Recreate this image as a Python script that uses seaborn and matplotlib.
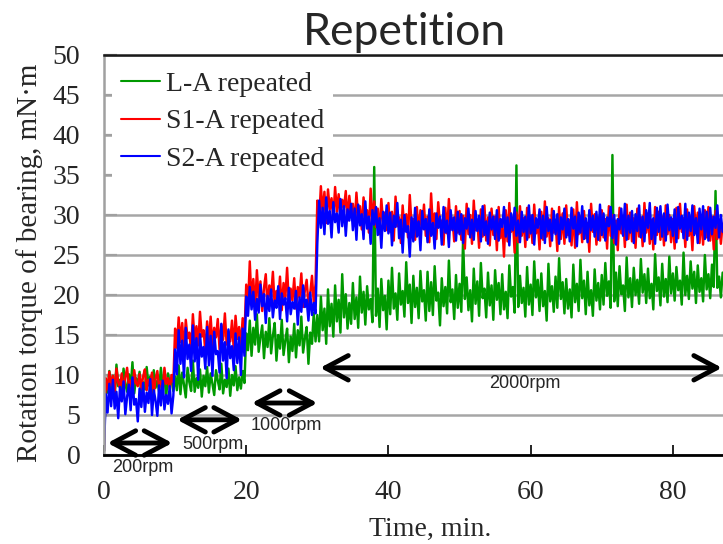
import numpy as np
import pandas as pd
import matplotlib
matplotlib.use("Agg")
import matplotlib.pyplot as plt
import seaborn as sns

# ---------------- data ----------------
PHASE_EDGES = [0, 10, 20, 30, 87]          # minutes: 200 / 500 / 1000 / 2000 rpm
SPEED_LABELS = ["200rpm", "500rpm", "1000rpm", "2000rpm"]
SERIES_NAMES = ["L-A repeated", "S1-A repeated", "S2-A repeated"]

# L-A repeated (green)
la_200 = [0.5, 9.2, 7.8, 10.5, 8.1, 9.9, 7.2, 11.3, 8.6, 9.4, 7.5, 10.8, 8.9, 7.9, 10.1, 8.3, 11.6, 7.7, 9.6, 8.8,
          10.4, 7.4, 9.1, 8.2, 11.0, 8.7, 9.8, 7.6, 10.6, 8.4, 9.3, 7.9, 10.9, 8.5, 9.7, 7.3, 10.2, 8.8, 9.5, 8.0]
la_500 = [9.8, 8.1, 11.2, 7.6, 10.3, 8.8, 7.2, 10.9, 9.1, 8.0, 11.8, 7.9, 9.6, 8.4, 10.7, 7.3, 9.9, 8.6, 11.0, 7.8,
          10.2, 8.9, 7.5, 10.6, 9.3, 8.2, 11.4, 7.7, 9.4, 8.5, 10.8, 7.4, 10.0, 8.7, 11.1, 8.1, 9.7, 8.3, 10.5, 9.0]
la_1000 = [15.2, 13.1, 16.8, 12.4, 15.9, 13.8, 17.6, 12.9, 14.7, 16.2, 12.1, 15.4, 13.5, 17.1, 12.7, 14.9, 16.5, 11.8, 15.0, 13.3,
           16.9, 12.5, 14.3, 15.8, 11.6, 14.8, 13.0, 16.4, 12.2, 15.6, 13.7, 17.3, 12.8, 14.6, 16.0, 11.4, 15.3, 13.9, 17.8, 14.2]
la_2000 = [17.5, 14.2, 19.8, 15.6, 18.3, 13.9, 20.7, 16.1, 18.9, 14.8, 21.2, 16.7, 19.4, 15.3, 22.6, 17.2, 20.1, 15.8, 19.0, 16.4,
           21.5, 17.0, 19.7, 15.9, 22.3, 17.8, 20.4, 16.3, 21.1, 18.2, 19.5, 16.6, 36.0, 17.4, 20.8, 16.0, 22.0, 18.1, 19.9, 15.7,
           21.8, 17.6, 23.4, 18.3, 20.2, 16.9, 22.7, 18.8, 20.5, 17.3, 24.1, 19.0, 21.3, 16.5, 22.4, 18.5, 20.9, 17.1, 23.0, 19.2,
           20.6, 16.8, 22.9, 18.0, 21.6, 17.5, 23.6, 19.3, 20.3, 16.2, 22.1, 18.6, 21.0, 17.7, 24.3, 19.1, 20.7, 17.0, 22.5, 18.4,
           21.4, 17.9, 27.0, 19.5, 22.2, 18.1, 20.6, 16.7, 23.3, 18.9, 21.7, 17.4, 24.0, 19.6, 20.8, 17.2, 22.8, 18.7, 21.2, 16.9,
           23.1, 19.4, 21.5, 17.6, 22.6, 18.2, 20.4, 17.1, 23.7, 19.8, 21.0, 17.8, 36.2, 18.5, 22.4, 19.0, 20.9, 17.3, 23.5, 18.8,
           21.3, 17.5, 24.2, 19.7, 21.9, 18.0, 22.7, 18.6, 20.5, 16.8, 23.9, 19.2, 21.1, 17.9, 22.3, 18.4, 24.6, 19.5, 21.6, 17.7,
           22.0, 18.3, 20.7, 17.2, 23.8, 19.1, 21.4, 18.0, 24.4, 19.6, 21.8, 17.6, 22.9, 18.7, 20.6, 17.4, 23.2, 19.3, 21.5, 18.2,
           22.5, 18.8, 24.0, 19.9, 21.7, 18.4, 37.5, 19.2, 22.8, 18.6, 23.6, 20.1, 21.2, 18.0, 24.7, 19.7, 22.1, 18.5, 23.4, 20.0,
           21.9, 18.9, 24.5, 20.3, 22.6, 19.0, 23.3, 19.6, 21.4, 18.2, 25.1, 20.5, 22.2, 18.7, 23.9, 19.8, 22.0, 19.1, 24.8, 20.2,
           22.7, 19.3, 23.5, 20.6, 21.8, 18.8, 25.3, 20.0, 22.4, 19.5, 24.2, 20.8, 22.9, 19.0, 23.7, 20.4, 22.1, 19.2, 25.0, 20.7,
           22.6, 19.6, 23.8, 21.0, 33.0, 20.9, 22.3, 19.7, 22.8]

# S1-A repeated (red)
s1_200 = [0.5, 9.6, 8.2, 10.4, 8.7, 9.9, 7.9, 10.8, 9.1, 8.4, 10.2, 8.0, 9.7, 10.9, 8.5, 9.3, 7.8, 10.6, 9.0, 8.6,
          10.1, 8.3, 9.8, 10.7, 8.1, 9.4, 8.8, 10.3, 7.7, 9.5, 10.5, 8.4, 9.2, 8.0, 10.9, 8.9, 9.6, 8.2, 10.0, 9.1]
s1_500 = [15.8, 13.4, 17.2, 14.1, 16.5, 12.8, 16.9, 14.6, 15.3, 13.0, 17.6, 14.3, 16.1, 13.7, 17.9, 14.8, 15.6, 12.9, 16.7, 14.0,
          17.3, 13.5, 15.9, 14.7, 17.0, 13.2, 16.3, 14.4, 17.7, 13.8, 15.5, 14.2, 16.8, 13.1, 17.4, 14.5, 16.0, 13.6, 17.1, 14.9]
s1_1000 = [21.3, 18.6, 24.2, 19.1, 22.0, 18.2, 23.1, 19.5, 21.7, 18.0, 20.9, 22.6, 18.4, 21.2, 19.8, 22.9, 18.7, 20.5, 19.2, 22.3,
           18.1, 21.5, 19.6, 23.4, 18.9, 20.8, 19.3, 22.1, 18.3, 21.0, 19.7, 22.7, 18.5, 20.6, 21.9, 18.8, 20.2, 22.4, 19.0, 21.4]
s1_2000 = [31.8, 29.4, 33.6, 30.2, 32.9, 29.0, 33.2, 30.7, 32.1, 29.6, 33.5, 30.4, 32.6, 29.8, 31.9, 30.9, 33.0, 29.3, 32.4, 30.1,
           31.4, 28.7, 32.8, 29.5, 31.1, 28.2, 32.2, 29.9, 30.6, 27.8, 33.3, 29.2, 31.7, 28.5, 30.8, 27.6, 32.0, 29.0, 30.3, 28.1,
           31.5, 27.9, 30.4, 26.8, 32.3, 28.6, 29.7, 26.5, 31.2, 28.0, 30.1, 27.2, 32.5, 28.8, 29.5, 26.9, 31.0, 27.5, 30.6, 28.3,
           31.3, 27.4, 29.8, 26.6, 32.7, 28.4, 30.2, 27.0, 31.6, 28.9, 29.3, 26.3, 30.9, 27.7, 32.0, 28.2, 29.6, 26.7, 31.1, 27.8,
           30.5, 26.9, 29.9, 25.8, 31.4, 27.6, 30.0, 26.4, 31.8, 28.1, 29.4, 25.9, 30.7, 27.3, 31.2, 26.8, 29.7, 26.2, 30.8, 27.5,
           29.8, 25.6, 31.0, 27.1, 29.2, 24.8, 30.6, 26.7, 31.5, 27.9, 29.5, 25.3, 30.3, 26.6, 31.1, 27.4, 29.6, 26.0, 30.9, 27.2,
           29.9, 26.5, 31.3, 27.7, 29.1, 25.7, 30.4, 26.9, 31.7, 27.3, 29.6, 26.1, 30.8, 27.8, 29.3, 25.5, 31.0, 27.0, 30.2, 26.4,
           31.2, 27.5, 29.4, 26.2, 30.7, 25.9, 31.6, 27.6, 29.8, 26.6, 30.5, 27.1, 29.0, 25.4, 31.4, 27.9, 30.1, 26.3, 29.7, 26.8,
           30.6, 27.2, 29.5, 25.8, 31.1, 27.4, 30.0, 26.5, 29.3, 25.6, 30.9, 27.7, 29.9, 26.0, 31.3, 27.0, 30.3, 26.7, 29.6, 25.9,
           30.8, 27.3, 29.7, 26.1, 31.5, 27.8, 30.2, 26.4, 29.4, 25.7, 31.0, 27.5, 30.4, 26.9, 29.8, 26.2, 31.2, 27.6, 30.0, 26.6,
           29.5, 25.8, 30.9, 27.1, 31.4, 27.9, 29.6, 26.0, 30.7, 27.4, 29.2, 25.6, 31.1, 27.7, 30.3, 26.5, 29.9, 26.3, 30.6, 27.2,
           31.0, 26.8, 29.8, 25.7, 30.5, 27.0, 29.4, 26.4, 28.9]

# S2-A repeated (blue)
s2_200 = [0.5, 7.6, 5.3, 8.9, 6.1, 9.4, 5.8, 7.9, 4.6, 8.5, 6.7, 9.2, 5.1, 7.3, 8.8, 5.6, 9.7, 6.3, 7.0, 4.2,
          8.3, 6.0, 9.0, 5.4, 7.8, 6.5, 9.5, 5.0, 8.1, 6.8, 4.9, 8.7, 6.2, 9.3, 5.7, 7.5, 6.4, 8.6, 5.2, 7.4]
s2_500 = [13.2, 10.1, 15.6, 11.4, 14.3, 9.7, 15.9, 12.0, 13.8, 10.5, 16.2, 11.7, 14.6, 9.4, 15.1, 12.3, 13.5, 10.8, 16.0, 11.2,
          14.9, 9.9, 15.4, 12.6, 13.0, 10.3, 16.4, 11.8, 14.1, 9.6, 15.7, 12.1, 13.6, 10.6, 15.2, 11.5, 14.7, 10.0, 15.8, 12.4]
s2_1000 = [19.8, 17.4, 21.0, 18.2, 20.4, 16.9, 19.5, 17.8, 21.3, 18.6, 20.1, 16.5, 19.9, 18.0, 20.7, 17.2, 19.3, 18.4, 21.1, 17.0,
           20.2, 18.8, 19.6, 16.7, 20.9, 17.6, 19.1, 18.3, 20.5, 16.3, 19.7, 17.9, 21.2, 18.5, 19.4, 16.8, 20.3, 17.5, 19.0, 17.7]
s2_2000 = [26.5, 31.8, 28.4, 30.9, 27.6, 32.2, 28.9, 30.5, 27.2, 31.6, 29.1, 30.2, 27.8, 32.0, 28.6, 31.1, 27.4, 30.7, 29.3, 31.4,
           28.1, 30.8, 26.9, 31.3, 28.7, 30.1, 27.0, 31.7, 28.3, 29.8, 26.4, 30.6, 28.8, 31.0, 27.5, 29.6, 25.9, 30.4, 28.0, 31.2,
           27.7, 30.3, 26.2, 29.9, 28.5, 31.5, 27.1, 29.4, 25.3, 30.0, 27.9, 28.6, 24.8, 29.7, 26.7, 30.9, 27.3, 29.2, 25.6, 30.5,
           28.2, 29.5, 26.6, 30.7, 27.4, 29.0, 25.8, 30.2, 28.4, 29.8, 26.3, 31.0, 27.8, 29.3, 26.0, 30.6, 28.1, 29.7, 26.8, 30.4,
           27.6, 30.1, 26.5, 29.6, 28.3, 30.8, 27.2, 29.4, 26.9, 30.5, 28.0, 29.9, 26.7, 31.1, 27.5, 29.2, 26.4, 30.3, 28.2, 29.8,
           27.0, 30.6, 26.8, 29.5, 28.5, 31.0, 27.3, 29.7, 26.2, 30.2, 28.1, 30.9, 27.4, 29.3, 26.6, 30.4, 27.9, 29.8, 26.9, 31.2,
           27.7, 30.0, 26.3, 29.6, 28.4, 30.7, 27.1, 29.9, 26.5, 31.0, 28.0, 29.4, 26.8, 30.5, 27.6, 30.1, 26.4, 29.7, 28.2, 30.8,
           27.2, 29.5, 26.7, 30.9, 28.3, 29.8, 26.1, 30.3, 27.8, 31.1, 27.0, 29.6, 26.6, 30.6, 28.1, 29.9, 27.3, 30.4, 26.9, 31.3,
           27.5, 30.2, 26.8, 29.7, 28.6, 31.0, 27.1, 30.0, 26.3, 29.5, 28.2, 30.8, 27.4, 31.4, 26.9, 29.9, 27.8, 30.5, 26.5, 30.1,
           28.0, 31.2, 27.2, 29.8, 26.7, 30.6, 28.4, 31.5, 27.0, 29.6, 26.4, 30.9, 27.9, 31.1, 27.3, 30.2, 26.8, 31.3, 28.1, 29.7,
           27.4, 30.7, 26.6, 31.0, 28.3, 29.9, 27.1, 31.4, 26.9, 30.3, 28.0, 31.2, 27.5, 29.6, 26.5, 30.8, 28.2, 31.1, 27.0, 30.4,
           26.8, 30.9, 27.6, 29.8, 28.4, 31.2, 27.2, 30.0, 27.9]

# speed-range arrows (start, end, height) and label placement (x, y)
ARROW_SPANS = [(0.5, 9.6, 1.5), (10.3, 19.4, 4.4), (20.8, 30.0, 6.5), (30.4, 86.9, 10.9)]
ARROW_LABEL_POS = [(5.5, -1.5), (15.3, 1.3), (25.6, 3.75), (59.2, 9.0)]

# ---------------- build long-form table ----------------
series_segments = {
    SERIES_NAMES[0]: [la_200, la_500, la_1000, la_2000],
    SERIES_NAMES[1]: [s1_200, s1_500, s1_1000, s1_2000],
    SERIES_NAMES[2]: [s2_200, s2_500, s2_1000, s2_2000],
}
rows = []
for name, segs in series_segments.items():
    for k, seg in enumerate(segs):
        last = (k == len(segs) - 1)
        t = np.linspace(PHASE_EDGES[k], PHASE_EDGES[k + 1], len(seg), endpoint=last)
        for ti, v in zip(t, seg):
            rows.append((name, ti, v))
df = pd.DataFrame(rows, columns=["series", "time", "torque"])

# ---------------- figure ----------------
sns.set_style("white")
SERIF = ["Liberation Serif", "DejaVu Serif"]

fig = plt.figure(figsize=(7.23, 5.44), dpi=100)
ax = fig.add_axes([104 / 723, 1 - 455 / 544, (723 - 104) / 723, 400 / 544])

palette = {SERIES_NAMES[0]: "#009900", SERIES_NAMES[1]: "#ff0000", SERIES_NAMES[2]: "#0000ff"}
sns.lineplot(data=df, x="time", y="torque", hue="series", hue_order=SERIES_NAMES,
             palette=palette, estimator=None, sort=False, lw=1.75, ax=ax, legend=True)

ax.set_xlim(0, 87.05)
ax.set_ylim(0, 50)
ax.set_yticks(np.arange(0, 51, 5))
ax.set_xticks([0, 20, 40, 60, 80])
ax.set_axisbelow(True)
ax.yaxis.grid(True, color="#a6a6a6", lw=1.8)
ax.xaxis.grid(False)

ax.spines["right"].set_visible(False)
ax.spines["top"].set_color("#1a1a1a")
ax.spines["top"].set_linewidth(1.8)
ax.spines["left"].set_color("#a0a0a0")
ax.spines["left"].set_linewidth(1.8)
ax.spines["bottom"].set_color("black")
ax.spines["bottom"].set_linewidth(2.0)

ax.tick_params(axis="y", direction="in", length=9, width=1.6, color="#a0a0a0",
               labelsize=20, pad=17, left=True)
ax.tick_params(axis="x", direction="in", length=7, width=1.2, color="black",
               labelsize=20, pad=18, bottom=True)
for lab in ax.get_xticklabels() + ax.get_yticklabels():
    lab.set_family(SERIF)

ax.set_ylabel("Rotation torque of bearing, mN\u00b7m", fontsize=21, family=SERIF)
ax.set_xlabel("Time, min.", fontsize=20, family=SERIF)
ax.yaxis.set_label_coords(-0.0985, 0.48)
ax.xaxis.set_label_coords(0.527, -0.155)

# legend
handles, labels = ax.get_legend_handles_labels()
for h in handles:
    h.set_linewidth(1.5)
leg = ax.legend(handles, labels, loc="upper left", bbox_to_anchor=(0, 1),
                prop={"family": SERIF, "size": 20}, frameon=True, facecolor="white",
                edgecolor="none", framealpha=1, fancybox=False,
                handlelength=1.4, handletextpad=0.25, labelspacing=0.43,
                borderpad=0.3, borderaxespad=0.3)

# speed arrows
for (x0, x1, yy), (lx, ly), txt in zip(ARROW_SPANS, ARROW_LABEL_POS, SPEED_LABELS):
    ax.annotate("", xy=(x1, yy), xytext=(x0, yy),
                arrowprops=dict(arrowstyle="<->,head_length=0.75,head_width=0.4",
                                lw=3.5, color="black", mutation_scale=22,
                                shrinkA=0, shrinkB=0),
                annotation_clip=False)
    ax.text(lx, ly, txt, ha="center", va="center", fontsize=13,
            family=["Liberation Sans", "DejaVu Sans"], clip_on=False)

fig.text(404 / 723, 1 - 45 / 544, "Repetition", ha="center", va="baseline",
         fontsize=32, family=["Lato", "Open Sans", "DejaVu Sans"])

fig.savefig("out.png", dpi=100)
